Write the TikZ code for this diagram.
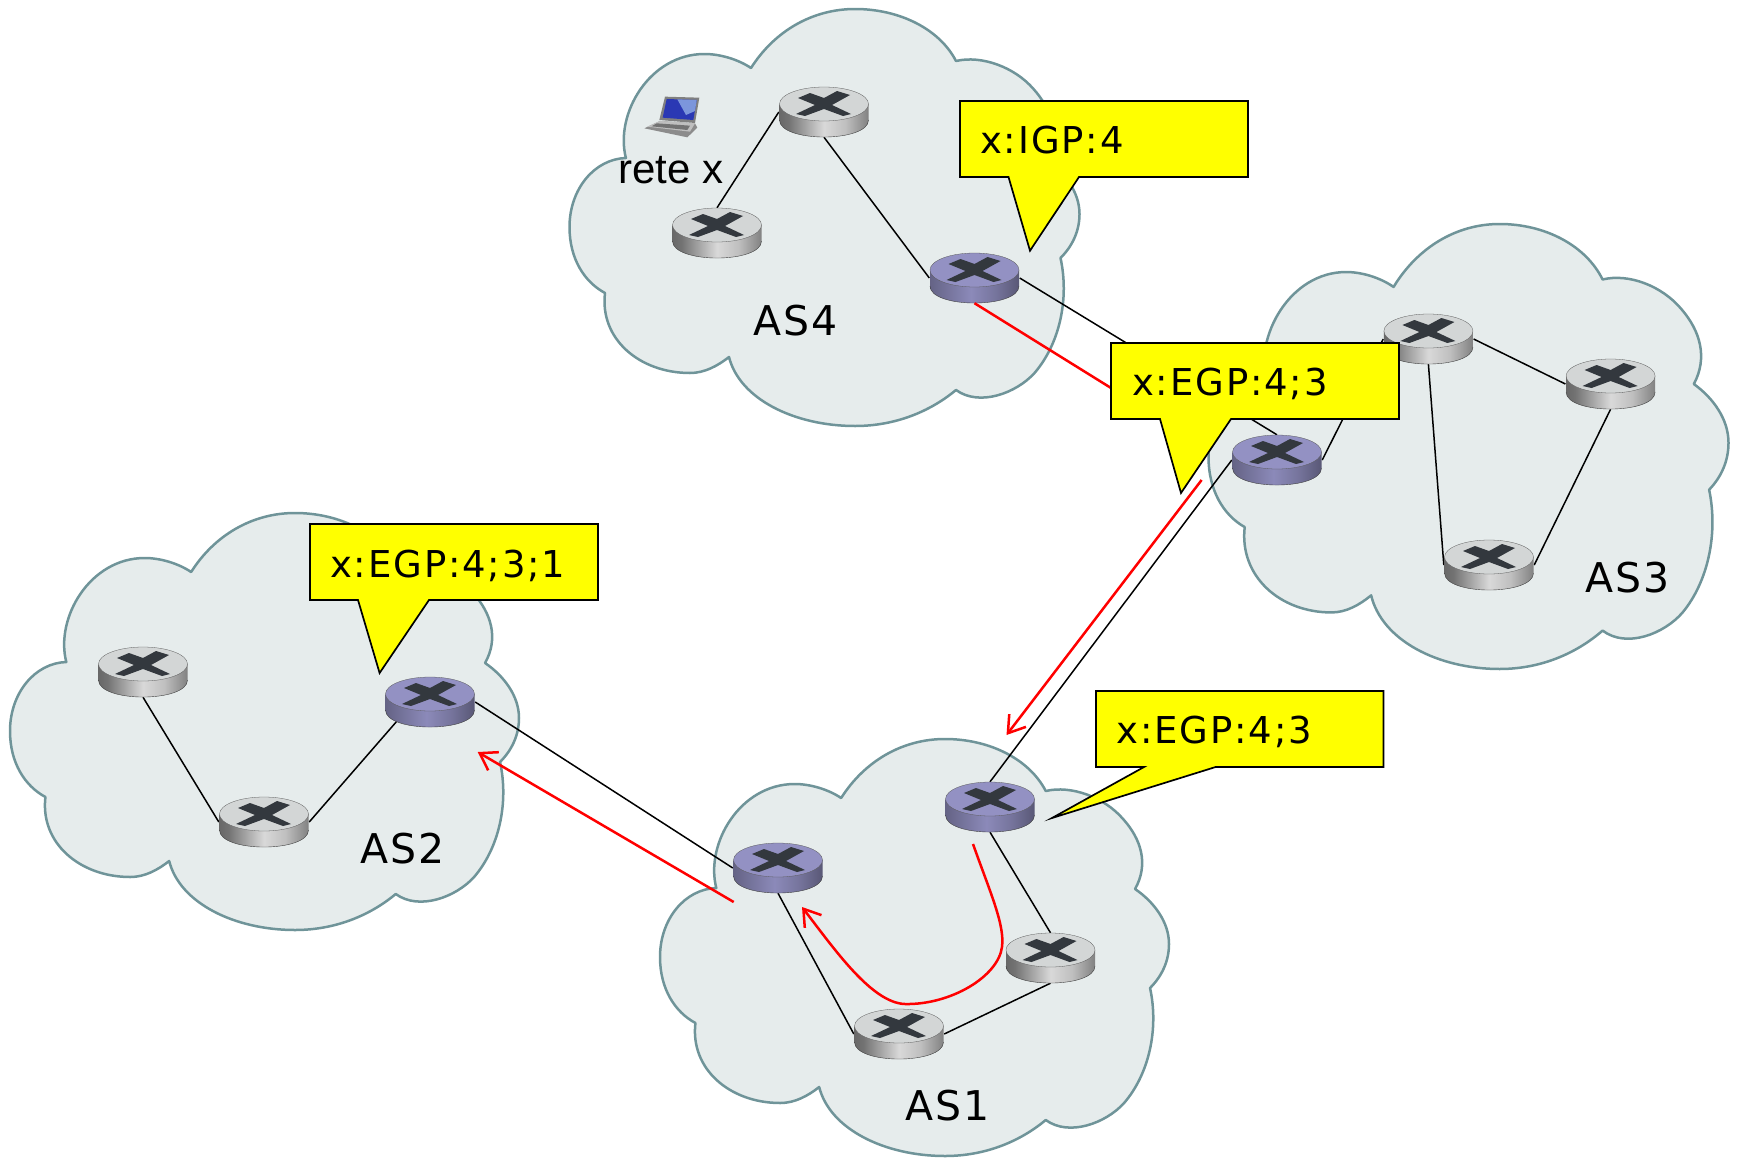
\documentclass[tikz,border=0pt]{standalone}
\usepackage{fontspec}
\usetikzlibrary{shapes.geometric,arrows.meta}
\newfontfamily\vfont[LetterSpace=5]{DejaVu Sans}
\newfontfamily\arfont{Liberation Sans}
\definecolor{cloudfill}{HTML}{E6ECEC}
\definecolor{cloudline}{HTML}{6F9499}
\definecolor{calloutyellow}{HTML}{FFFF00}
\definecolor{grayface}{HTML}{D3D6D6}
\definecolor{purpleface}{HTML}{9391C3}
\definecolor{glyph}{HTML}{33383E}
\definecolor{screenblue}{HTML}{2A38B4}
\definecolor{screenlight}{HTML}{7C96DC}
\pgfdeclarehorizontalshading{graysides}{100bp}{color(0bp)=(black!70);color(10bp)=(black!72);color(30bp)=(black!55);color(50bp)=(black!15);color(62bp)=(black!25);color(85bp)=(black!68);color(100bp)=(black!78)}
\pgfdeclarehorizontalshading{purplesides}{100bp}{color(0bp)=(purpleface!55!black);color(22bp)=(purpleface!65!black);color(48bp)=(purpleface!95!black);color(62bp)=(purpleface!80!black);color(82bp)=(purpleface!50!black);color(100bp)=(purpleface!40!black)}
\tikzset{
  routerbox/.style={ellipse,inner sep=0pt,minimum width=90pt,minimum height=50pt},
  cloudshape/.style={fill=cloudfill,draw=cloudline,line width=2.5pt,line join=round},
  linkline/.style={draw=black,line width=1.5pt},
  redline/.style={draw=red,line width=2.5pt},
  redarrow/.style={redline,-{Straight Barb[length=16pt,width=21pt,line width=2.5pt]}},
  calloutshape/.style={fill=calloutyellow,draw=black,line width=1.7pt,line join=miter},
  callouttext/.style={anchor=base west,inner sep=0pt,font=\vfont\fontsize{37}{40}\selectfont},
  aslabel/.style={anchor=base west,inner sep=0pt,font=\vfont\fontsize{41}{44}\selectfont},
}
\newcommand{\cloudat}[4]{%
\begin{scope}[shift={(#1,#2)},xscale=#3/510,yscale=#4/417]
\path[cloudshape]
 (181.5,59) .. controls (205,22) and (243,0) .. (285.5,0)
 .. controls (330,0) and (370,20) .. (386.5,52)
 .. controls (412,46) and (445,58) .. (464,80)
 .. controls (482,100) and (490,125) .. (476,150)
 .. controls (495,163) and (510,183) .. (510,205)
 .. controls (510,222) and (503,237) .. (491,249)
 .. controls (500,290) and (490,335) .. (465,364)
 .. controls (447,384) and (410,398) .. (386.5,381)
 .. controls (360,403) and (325,417) .. (285.5,417)
 .. controls (225,417) and (170,390) .. (159.5,348)
 .. controls (148,357) and (135,364) .. (120.5,364)
 .. controls (70,364) and (30,330) .. (35.5,284)
 .. controls (15,273) and (0,250) .. (0,218)
 .. controls (0,180) and (25,150) .. (56.4,149)
 .. controls (45,105) and (80,45) .. (135,45)
 .. controls (150,45) and (168,50) .. (181.5,59)
 -- cycle;
\end{scope}}
\newcommand{\routernode}[2]{\node[routerbox] (#1) at (#2) {};}
\newcommand{\routerdraw}[3]{%
\begin{scope}[shift={(#1.center)}]
\path[shading=#3] (-44.5,-8) -- (-44.5,8) .. controls (-44.5,30.7) and (44.5,30.7) .. (44.5,8) -- (44.5,-8) -- cycle;
\draw[black!75,line width=.4pt] (-44.5,8) .. controls (-44.5,30.7) and (44.5,30.7) .. (44.5,8);
\path[fill=#2,draw=black!65,line width=.3pt] (0,-8) ellipse [x radius=44.5pt,y radius=17pt];
\fill[glyph] (0,-14) -- (13,-21) -- (26,-17) -- (8,-7) -- (27,2) -- (19,4) -- (0,-3) -- (-19,4) -- (-28,2) -- (-9,-7) -- (-26,-14) -- (-14,-19) -- cycle;
\end{scope}}
\begin{document}
\begin{tikzpicture}[x=1pt,y=-1pt]
\useasboundingbox (0,0) rectangle (1742,1159);
% clouds
\cloudat{569.5}{9}{510}{417}
\cloudat{1208.5}{224}{520}{445}
\cloudat{10}{513}{509}{417}
\cloudat{660}{739}{509}{417}
% router nodes
\routernode{ra}{824,112}
\routernode{rb}{717,233}
\routernode{rc}{974.5,278}
\routernode{rd}{1428.4,339}
\routernode{re}{1610.6,384}
\routernode{rf}{1489,565}
\routernode{rg}{1277,460}
\routernode{rh}{143,672}
\routernode{ri}{264,822}
\routernode{rj}{430,702}
\routernode{rk}{990,807}
\routernode{rl}{778,868}
\routernode{rm}{1050.5,958}
\routernode{rn}{899,1034}
% links
\draw[linkline] (ra.west) -- (rb.north);
\draw[linkline] (ra.south) -- (rc.west);
\draw[linkline] (rc.east) -- (rg.north);
\draw[linkline] (rg.east) -- (rd.west);
\draw[linkline] (rd.east) -- (re.west);
\draw[linkline] (rd.south) -- (rf.west);
\draw[linkline] (re.south) -- (rf.east);
\draw[linkline] (rg.west) -- (rk.north);
\draw[linkline] (rk.south) -- (rm.north);
\draw[linkline] (rl.south) -- (rn.west);
\draw[linkline] (rn.east) -- (rm.south);
\draw[linkline] (rl.west) -- (rj.east);
\draw[linkline] (rh.south) -- (ri.west);
\draw[linkline] (ri.east) -- (rj.south west);
% routers
\routerdraw{ra}{grayface}{graysides}
\routerdraw{rb}{grayface}{graysides}
\routerdraw{rc}{purpleface}{purplesides}
\routerdraw{rd}{grayface}{graysides}
\routerdraw{re}{grayface}{graysides}
\routerdraw{rf}{grayface}{graysides}
\routerdraw{rg}{purpleface}{purplesides}
\routerdraw{rh}{grayface}{graysides}
\routerdraw{ri}{grayface}{graysides}
\routerdraw{rj}{purpleface}{purplesides}
\routerdraw{rk}{purpleface}{purplesides}
\routerdraw{rl}{purpleface}{purplesides}
\routerdraw{rm}{grayface}{graysides}
\routerdraw{rn}{grayface}{graysides}
% laptop
\begin{scope}[shift={(640,85)},xscale=.3333,yscale=.3333]
\fill[black!45] (60,108) -- (165,115) -- (172,128) -- (142,157) -- (13,130) -- cycle;
\fill[black!25] (60,108) -- (165,115) -- (150,140) -- (22,125) -- cycle;
\fill[black!55] (50,115) -- (150,122) -- (142,135) -- (35,124) -- cycle;
\fill[black!50] (75,35) -- (178,38) -- (165,114) -- (58,105) -- cycle;
\fill[screenblue] (80,42) -- (170,45) -- (160,105) -- (68,98) -- cycle;
\fill[screenlight] (112,43) -- (170,45) -- (165,78) -- (138,90) -- cycle;
\end{scope}
% red paths
\coordinate (s2) at (1140,406);
\coordinate (s3) at (1201.6,480);
\coordinate (t3) at (1006.5,735);
\coordinate (s4) at (733.7,902);
\coordinate (t4) at (477.7,752);
\coordinate (s5) at (973,844);
\coordinate (t5) at (802,907);
\draw[redline] (rc.south) -- (s2);
\draw[redarrow] (s3) -- (t3);
\draw[redarrow] (s4) -- (t4);
\draw[redarrow] (s5) .. controls (990,892) and (1005,925) .. (1002,947)
  .. controls (998,977) and (950,1005) .. (905,1004)
  .. controls (872,1003) and (835,950) .. (t5);
% callouts
\path[calloutshape] (960,101) -- (1248,101) -- (1248,177) -- (1079,177) -- (1030,250.7) -- (1008.5,177) -- (960,177) -- cycle;
\node[callouttext] (c1) at (980,153) {x:IGP:4};
\path[calloutshape] (1111,343) -- (1399,343) -- (1399,419) -- (1231,419) -- (1181,493) -- (1160,419) -- (1111,419) -- cycle;
\node[callouttext] (c2) at (1132,395) {x:EGP:4;3};
\path[calloutshape] (310,524) -- (598,524) -- (598,600) -- (429,600) -- (379.6,673) -- (358,600) -- (310,600) -- cycle;
\node[callouttext] (c3) at (330,577) {x:EGP:4;3;1};
\path[calloutshape] (1096,691) -- (1383.5,691) -- (1383.5,767) -- (1215.6,767) -- (1052,818) -- (1144,767) -- (1096,767) -- cycle;
\node[callouttext] (c4) at (1116.5,743) {x:EGP:4;3};
% labels
\node[aslabel] (l4) at (753,335) {AS4};
\node[aslabel] (l3) at (1585,592) {AS3};
\node[aslabel] (l2) at (360,863) {AS2};
\node[aslabel] (l1) at (905,1120) {AS1};
\node[anchor=base west,inner sep=0pt,font=\arfont\fontsize{42}{44}\selectfont] (lx) at (618,183) {rete x};
\end{tikzpicture}
\end{document}
